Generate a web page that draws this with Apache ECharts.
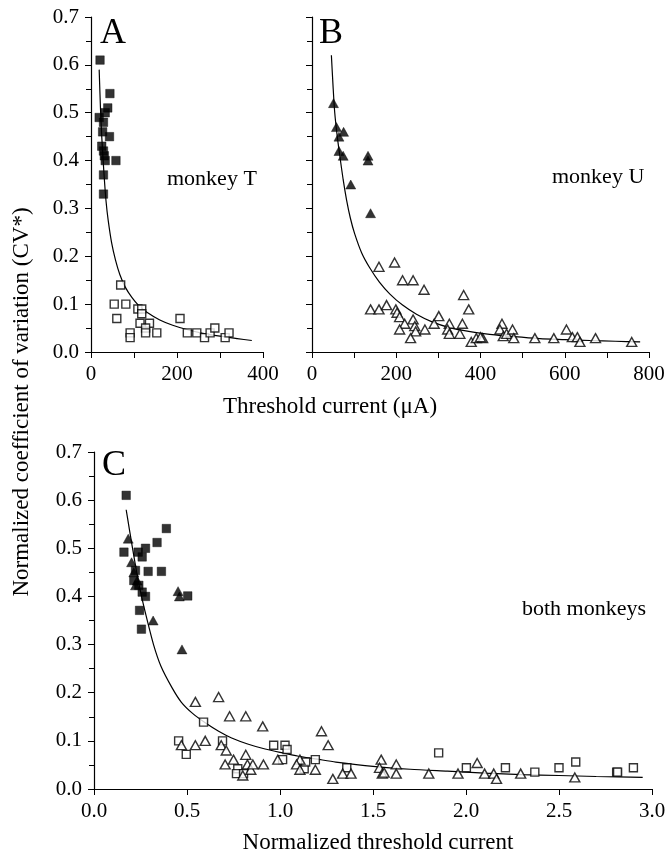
<!DOCTYPE html>
<html>
<head>
<meta charset="utf-8">
<script src="https://cdn.jsdelivr.net/npm/echarts@6/dist/echarts.min.js"></script>
<style>
html,body{margin:0;padding:0;background:#fff;}
#chart{width:670px;height:856px;}
</style>
</head>
<body>
<div id="chart"></div>
<script>
// ---------- Panel A: monkey T (threshold current µA, CV*) ----------
const aFilledSquares = [[21,0.61],[44,0.54],[39,0.51],[19,0.49],[33,0.50],[29,0.48],[27,0.46],[43,0.45],
  [25,0.43],[29,0.42],[31,0.41],[33,0.40],[58,0.40],[29,0.37],[29,0.33]];
const aOpenSquares = [[69,0.14],[54,0.10],[81,0.10],[60,0.07],[91,0.04],[91,0.03],[109,0.09],[118,0.09],
  [118,0.08],[114,0.06],[136,0.06],[127,0.05],[127,0.04],[153,0.04],[207,0.07],[224,0.04],[246,0.04],
  [264,0.03],[277,0.04],[288,0.05],[312,0.03],[321,0.04]];
const aCurve = [[19,0.59],[22,0.51],[25,0.45],[30,0.375],[35,0.315],[40,0.275],[48,0.228],[57,0.192],
  [67,0.162],[80,0.135],[95,0.114],[110,0.098],[130,0.083],[160,0.067],[190,0.056],[223,0.047],
  [260,0.039],[300,0.033],[340,0.028],[374,0.024]];

// ---------- Panel B: monkey U ----------
const bFilledTriangles = [[51,0.52],[58,0.47],[64,0.45],[75,0.46],[64,0.42],[74,0.41],[133,0.41],[133,0.40],
  [92,0.35],[139,0.29]];
const bOpenTriangles = [[159,0.178],[196,0.187],[215,0.15],[240,0.15],[266,0.13],[360,0.119],[372,0.089],
  [139,0.089],[159,0.089],[177,0.098],[199,0.089],[202,0.082],[208,0.073],[220,0.059],[208,0.047],
  [240,0.068],[244,0.054],[246,0.043],[234,0.029],[268,0.047],[290,0.059],[301,0.075],[326,0.059],
  [322,0.047],[326,0.038],[351,0.038],[357,0.059],[378,0.021],[390,0.029],[405,0.029],[400,0.031],
  [451,0.059],[446,0.047],[454,0.033],[462,0.038],[476,0.047],[479,0.029],[529,0.029],[574,0.029],
  [604,0.047],[618,0.031],[630,0.031],[636,0.021],[673,0.029],[759,0.021]];
const bCurve = [[46,0.62],[50,0.555],[54,0.50],[60,0.45],[66,0.41],[74,0.36],[82,0.318],[91,0.28],
  [101,0.248],[118,0.207],[137,0.176],[160,0.146],[185,0.121],[215,0.098],[248,0.079],[285,0.063],
  [327,0.051],[372,0.043],[422,0.037],[480,0.032],[541,0.028],[600,0.026],[660,0.024],[720,0.0225],[779,0.021]];

// ---------- Panel C: both monkeys (normalized) ----------
const cFilledSquares = [[0.173,0.61],[0.389,0.541],[0.339,0.512],[0.277,0.50],[0.161,0.492],[0.2375,0.492],
  [0.259,0.482],[0.291,0.452],[0.3625,0.452],[0.223,0.454],[0.214,0.433],[0.241,0.423],[0.259,0.409],
  [0.277,0.40],[0.504,0.401],[0.245,0.371],[0.255,0.332]];
const cFilledTriangles = [[0.184,0.52],[0.202,0.471],[0.214,0.45],[0.232,0.433],[0.223,0.423],
  [0.452,0.411],[0.459,0.40],[0.318,0.35],[0.473,0.29]];
const cOpenTriangles = [[0.545,0.181],[0.67,0.191],[0.729,0.151],[0.816,0.151],[0.907,0.130],[0.47,0.091],
  [0.545,0.091],[0.598,0.10],[0.684,0.091],[0.711,0.080],[0.705,0.051],[0.75,0.061],[0.816,0.071],
  [0.825,0.051],[0.843,0.040],[0.854,0.051],[0.911,0.051],[0.80,0.028],[0.988,0.061],[1.107,0.061],
  [1.089,0.051],[1.107,0.040],[1.19,0.04],[1.223,0.12],[1.259,0.091],[1.284,0.021],[1.337,0.032],
  [1.382,0.032],[1.544,0.061],[1.535,0.044],[1.55,0.032],[1.56,0.034],[1.625,0.051],[1.625,0.032],
  [1.80,0.032],[1.957,0.032],[2.06,0.054],[2.10,0.032],[2.149,0.032],[2.164,0.021],[2.294,0.032],
  [2.585,0.024]];
const cOpenSquares = [[0.455,0.10],[0.496,0.072],[0.589,0.139],[0.691,0.10],[0.773,0.042],[0.766,0.032],
  [0.804,0.032],[0.966,0.091],[1.027,0.091],[1.038,0.082],[1.014,0.061],[1.13,0.042],[1.138,0.056],
  [1.19,0.061],[1.359,0.044],[1.853,0.075],[2.002,0.044],[2.212,0.044],[2.37,0.035],[2.50,0.044],
  [2.59,0.056],[2.81,0.035],[2.815,0.035],[2.90,0.044]];
const cCurve = [[0.173,0.58],[0.19,0.54],[0.205,0.505],[0.225,0.46],[0.25,0.41],[0.28,0.36],[0.32,0.30],
  [0.36,0.255],[0.42,0.21],[0.47,0.18],[0.53,0.157],[0.6,0.137],[0.67,0.12],[0.74,0.106],[0.83,0.093],
  [0.92,0.083],[1.0,0.076],[1.1,0.068],[1.2,0.062],[1.3,0.056],[1.5,0.047],[1.7,0.041],[1.9,0.037],
  [2.1,0.033],[2.3,0.030],[2.5,0.028],[2.7,0.026],[2.95,0.024]];

// ---------- Tick labels / texts ----------
const yTickLabelDigits = 1;
const panelLetters = ['A','B','C'];
const panelNotes = ['monkey T','monkey U','both monkeys'];
const yTitle = 'Normalized coefficient of variation (CV*)';
const xTitleTop = 'Threshold current (\u03bcA)';
const xTitleBottom = 'Normalized threshold current';

const FONT = "'Liberation Serif','Times New Roman',serif";
const chart = echarts.init(document.getElementById('chart'), null, {renderer:'canvas'});

function yAxisCfg(gridIndex, showLabels){
  return {
    type:'value', gridIndex, min:0, max:0.7, interval:0.1,
    axisLine:{show:true, lineStyle:{color:'#000', width:1.2}},
    axisTick:{show:true, inside:false, length:6, lineStyle:{color:'#000', width:1}},
    minorTick:{show:true, splitNumber:2, length:5, lineStyle:{color:'#000', width:1}},
    splitLine:{show:false}, minorSplitLine:{show:false},
    axisLabel:{show:showLabels, margin:12, color:'#000', fontFamily:FONT, fontSize:21,
      formatter:v=>v.toFixed(yTickLabelDigits)}
  };
}
function xAxisCfg(gridIndex, max, interval, fmt){
  return {
    type:'value', gridIndex, min:0, max, interval,
    axisLine:{show:true, onZero:false, lineStyle:{color:'#000', width:1.2}},
    axisTick:{show:true, inside:false, length:6, lineStyle:{color:'#000', width:1}},
    splitLine:{show:false},
    axisLabel:{show:true, margin:12, color:'#000', fontFamily:FONT, fontSize:21, formatter:fmt,
      showMinLabel:true, showMaxLabel:true}
  };
}
const every200 = v => (Math.round(v) % 200 === 0 ? String(Math.round(v)) : '');

function scatter(name, xi, yi, data, symbol, filled, size){
  return {
    name, type:'scatter', xAxisIndex:xi, yAxisIndex:yi, data, symbol, symbolSize:size,
    itemStyle: filled ? {color:'#000', borderColor:'#000', borderWidth:0.5}
                      : {color:'#fff', borderColor:'#000', borderWidth:1.4},
    emphasis:{disabled:true}, z:3
  };
}
function curve(name, xi, yi, data){
  return {
    name, type:'line', xAxisIndex:xi, yAxisIndex:yi, data, smooth:0.25,
    showSymbol:false, symbol:'none', lineStyle:{color:'#000', width:1.2}, z:2, silent:true
  };
}

const textStyle = (txt, size) => ({text:txt, fill:'#000', font: size + "px " + FONT});

const option = {
  animation:false,
  backgroundColor:'#fff',
  grid:[
    {left:91, top:17, width:172, height:335},
    {left:312, top:17, width:337, height:335},
    {left:94, top:452, width:558, height:337}
  ],
  xAxis:[
    xAxisCfg(0, 400, 100, every200),
    xAxisCfg(1, 800, 100, every200),
    xAxisCfg(2, 3, 0.5, v=>v.toFixed(1))
  ],
  yAxis:[ yAxisCfg(0,true), yAxisCfg(1,false), yAxisCfg(2,true) ],
  series:[
    curve('A fit',0,0,aCurve),
    scatter('A filled',0,0,aFilledSquares,'rect',true,8.5),
    scatter('A open',0,0,aOpenSquares,'rect',false,8),
    curve('B fit',1,1,bCurve),
    scatter('B filled',1,1,bFilledTriangles,'triangle',true,[10,9]),
    scatter('B open',1,1,bOpenTriangles,'triangle',false,[10,9]),
    curve('C fit',2,2,cCurve),
    scatter('C open sq',2,2,cOpenSquares,'rect',false,8),
    scatter('C open tri',2,2,cOpenTriangles,'triangle',false,[10,9]),
    scatter('C filled sq',2,2,cFilledSquares,'rect',true,8.5),
    scatter('C filled tri',2,2,cFilledTriangles,'triangle',true,[10,9])
  ],
  graphic:[
    {type:'text', left:100, top:16, style:textStyle(panelLetters[0],36)},
    {type:'text', left:319, top:16, style:textStyle(panelLetters[1],36)},
    {type:'text', left:102, top:448, style:textStyle(panelLetters[2],36)},
    {type:'text', left:167, top:168, style:textStyle(panelNotes[0],22)},
    {type:'text', left:552, top:166, style:textStyle(panelNotes[1],22)},
    {type:'text', left:522, top:598, style:textStyle(panelNotes[2],22)},
    {type:'text', x:330, y:407, style:Object.assign(textStyle(xTitleTop,23),{align:'center',verticalAlign:'middle'})},
    {type:'text', x:378, y:843, style:Object.assign(textStyle(xTitleBottom,23),{align:'center',verticalAlign:'middle'})},
    {type:'text', x:22, y:402, rotation:Math.PI/2,
      style:Object.assign(textStyle(yTitle,23),{align:'center',verticalAlign:'middle'})}
  ]
};
chart.setOption(option);
</script>
</body>
</html>
